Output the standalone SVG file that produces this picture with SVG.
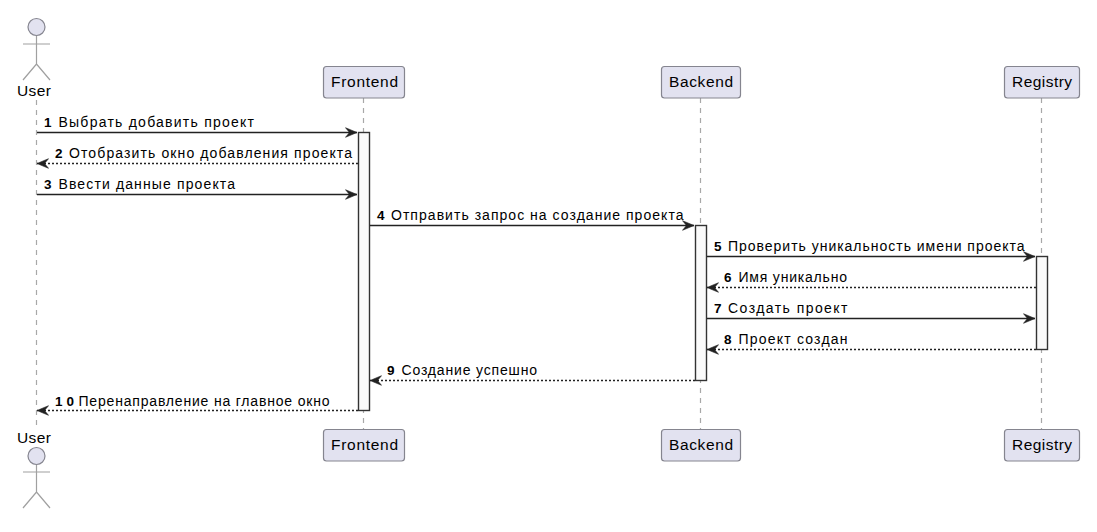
<svg xmlns="http://www.w3.org/2000/svg" width="1097" height="532" viewBox="0 0 1097 532">
<style>
text{font-family:"Liberation Sans",Arial,sans-serif;fill:#000}
.m{font-size:14px}
.n{font-size:13.500px;font-weight:bold}
.p{font-size:15.500px}
.box{fill:#E2E2F0;stroke:#85858f;stroke-width:1.200}
.ll{stroke:#a8a8a8;stroke-width:1.200;stroke-dasharray:5 5;fill:none}
.a{stroke:#a0a0a0;stroke-width:1.200;fill:none}
.act{fill:#fafafa;stroke:#333;stroke-width:1.400}
.s{stroke:#222;stroke-width:1.300;fill:none;marker-end:url(#h)}
.d{stroke:#222;stroke-width:1.300;fill:none;stroke-dasharray:2 2;marker-end:url(#h)}
</style>
<defs>
<marker id="h" markerUnits="userSpaceOnUse" markerWidth="14" markerHeight="13" refX="12" refY="6" orient="auto"><path d="M0.500 1.200L12 6L0.500 10.800L4.500 6Z" fill="#222" stroke="#222" stroke-width=".6"/></marker>
</defs>
<g id="lifelines">
<path class="ll" d="M36.500 100V428"/><path class="ll" d="M363.500 98V429"/><path class="ll" d="M700.500 98V429"/><path class="ll" d="M1041.500 98V429"/>
</g>
<g id="activations">
<rect class="act" x="358.500" y="132.500" width="11" height="278"/>
<rect class="act" x="695.500" y="225.500" width="11" height="155"/>
<rect class="act" x="1036.500" y="256.500" width="11" height="93"/>
</g>
<g id="connectors">
<path class="s" d="M37 132.500H357"/>
<path class="d" d="M358 163.500H37"/>
<path class="s" d="M37 194.500H357"/>
<path class="s" d="M370 225.500H694"/>
<path class="s" d="M707 256.500H1035"/>
<path class="d" d="M1036 287.500H707"/>
<path class="s" d="M707 318.500H1035"/>
<path class="d" d="M1036 349.500H707"/>
<path class="d" d="M695 380.500H370"/>
<path class="d" d="M358 410.500H37"/>
</g>
<g id="labels">
<text class="n" x="44" y="127">1</text><text class="m" x="58.500" y="127" textLength="195.500">Выбрать добавить проект</text>
<text class="n" x="55" y="158">2</text><text class="m" x="69" y="158" textLength="283">Отобразить окно добавления проекта</text>
<text class="n" x="44" y="189">3</text><text class="m" x="58.500" y="189" textLength="176.500">Ввести данные проекта</text>
<text class="n" x="377" y="220">4</text><text class="m" x="391" y="220" textLength="292.500">Отправить запрос на создание проекта</text>
<text class="n" x="714" y="251">5</text><text class="m" x="728" y="251" textLength="296.500">Проверить уникальность имени проекта</text>
<text class="n" x="724" y="282">6</text><text class="m" x="738.500" y="282" textLength="108.500">Имя уникально</text>
<text class="n" x="714" y="313">7</text><text class="m" x="728" y="313" textLength="119.500">Создать проект</text>
<text class="n" x="724" y="344">8</text><text class="m" x="738.500" y="344" textLength="109">Проект создан</text>
<text class="n" x="387" y="375">9</text><text class="m" x="401.500" y="375" textLength="135.500">Создание успешно</text>
<text class="n" x="55" y="406" letter-spacing="4">10</text><text class="m" x="78.500" y="406" textLength="251">Перенаправление на главное окно</text>
</g>
<g id="user-top">
<circle class="box" cx="36.500" cy="27" r="8.500"/><path class="a" d="M36.500 36V64M23 44H50M23 80L36.500 64L50 80"/>
<text class="p" x="17" y="96" textLength="34">User</text>
</g>
<g id="user-bottom">
<circle class="box" cx="36.500" cy="456" r="8.500"/><path class="a" d="M36.500 465V492M23 472H50M23 508L36.500 492L50 508"/>
<text class="p" x="17" y="443" textLength="34">User</text>
</g>
<g id="frontend-top"><rect class="box" x="323.500" y="66.500" width="81" height="31.500" rx="3"/><text class="p" x="331" y="87" textLength="67">Frontend</text></g>
<g id="frontend-bottom"><rect class="box" x="323.500" y="429.500" width="81" height="31.500" rx="3"/><text class="p" x="331" y="450" textLength="67">Frontend</text></g>
<g id="backend-top"><rect class="box" x="661.500" y="66.500" width="79" height="31.500" rx="3"/><text class="p" x="669" y="87" textLength="64">Backend</text></g>
<g id="backend-bottom"><rect class="box" x="661.500" y="429.500" width="79" height="31.500" rx="3"/><text class="p" x="669" y="450" textLength="64">Backend</text></g>
<g id="registry-top"><rect class="box" x="1004.500" y="66.500" width="75" height="31.500" rx="3"/><text class="p" x="1012" y="87" textLength="60">Registry</text></g>
<g id="registry-bottom"><rect class="box" x="1004.500" y="429.500" width="75" height="31.500" rx="3"/><text class="p" x="1012" y="450" textLength="60">Registry</text></g>
</svg>
